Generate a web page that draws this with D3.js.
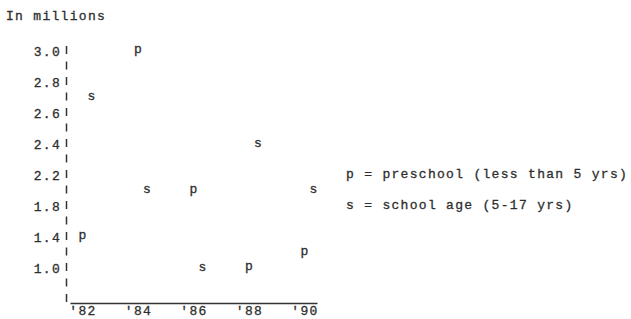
<!DOCTYPE html>
<html><head><meta charset="utf-8">
<script src="https://cdn.jsdelivr.net/npm/d3@7"></script>
<style>
html,body{margin:0;padding:0;background:#fff;}
svg text{font-family:"Liberation Mono","Courier New",monospace;font-size:13px;fill:#2e2e2e;stroke:#2e2e2e;stroke-width:0.3px;letter-spacing:1.3px;}
</style></head>
<body>
<svg id="c" width="631" height="319"></svg>
<script>
const years = [1982, 1984, 1986, 1988, 1990];
const yearLabels = ["'82", "'84", "'86", "'88", "'90"];
const preschool = [1.4, 3.0, 2.0, 1.0, 1.2];
const schoolAge = [2.7, 2.0, 1.0, 2.4, 2.0];
const yTickValues = [3.0, 2.8, 2.6, 2.4, 2.2, 1.8, 1.4, 1.0];
const legendLines = ["p = preschool (less than 5 yrs)", "s = school age (5-17 yrs)"];
const unitLabel = "In millions";

const svg = d3.select("#c");

// typewriter-style axis: equal row spacing for unequal tick steps
const yDomain = [0.6, 1.0, 1.4, 1.8, 2.2, 2.4, 2.6, 2.8, 3.0];
const rowTop = 50, rowStep = 31;
const y = d3.scaleLinear()
  .domain(yDomain)
  .range(yDomain.map((d, i) => rowTop + (yDomain.length - 1 - i) * rowStep));

const x = d3.scalePoint().domain(years).range([70, 317]).padding(0.225);

// unit label
svg.append("text").attr("x", 6).attr("y", 20).text(unitLabel);

// y axis labels
const yAxis = d3.axisLeft(y).tickValues(yTickValues).tickSize(0).tickPadding(0)
  .tickFormat(d3.format(".1f"));
const gy = svg.append("g").attr("transform", "translate(61,0)").call(yAxis);
gy.select(".domain").remove();
gy.attr("font-family", null).attr("font-size", null);
gy.selectAll("text").attr("dy", "0.4em").attr("fill", null);

// short vertical bar marks at every half row (typed "|")
const barVals = [];
for (let i = 0; i < yDomain.length; i++) {
  barVals.push(yDomain[i]);
  if (i < yDomain.length - 1) barVals.push((yDomain[i] + yDomain[i + 1]) / 2);
}
svg.append("g").selectAll("line").data(barVals).join("line")
  .attr("x1", 66.5).attr("x2", 66.5)
  .attr("y1", d => y(d) - 4).attr("y2", d => y(d) + 4)
  .attr("stroke", "#333").attr("stroke-width", 1.5);

// x axis
const xAxis = d3.axisBottom(x).tickSize(0).tickSizeOuter(0).tickPadding(3)
  .tickFormat((d, i) => yearLabels[i]);
const gx = svg.append("g").attr("transform", "translate(0,303)").call(xAxis);
gx.select(".domain").attr("stroke", "#333").attr("stroke-width", 1.3);
gx.attr("font-family", null).attr("font-size", null);
gx.selectAll("text").attr("fill", null);

// data marks as typed letters
const charOffset = 9;
svg.append("g").selectAll("text").data(years.map((yr, i) => ({yr, v: preschool[i]})))
  .join("text").attr("x", d => x(d.yr)).attr("y", d => y(d.v)).attr("dy", "0.25em")
  .attr("text-anchor", "middle").style("letter-spacing", "0px").text("p");
svg.append("g").selectAll("text").data(years.map((yr, i) => ({yr, v: schoolAge[i]})))
  .join("text").attr("x", d => x(d.yr) + charOffset).attr("y", d => y(d.v)).attr("dy", "0.3em")
  .attr("text-anchor", "middle").style("letter-spacing", "0px").text("s");

// legend
svg.append("g").selectAll("text").data(legendLines).join("text")
  .attr("x", 346).attr("y", (d, i) => y(i === 0 ? 2.2 : 1.8)).attr("dy", "0.3em")
  .style("white-space", "pre").text(d => d);
</script>
</body></html>
